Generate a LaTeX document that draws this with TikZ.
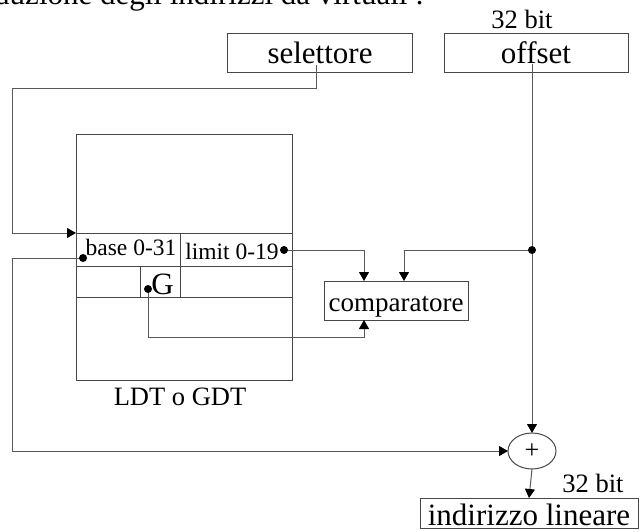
\documentclass[tikz,border=0pt]{standalone}
\usepackage{fontspec}
\setmainfont{Liberation Serif}
\usetikzlibrary{arrows.meta,shapes.geometric}

\begin{document}
\begin{tikzpicture}[x=1pt,y=-1pt,
  wire/.style={draw=black!65, line width=1pt},
  flow/.style={wire, -{Triangle[length=9pt,width=10pt,color=black]}},
  frame/.style={draw=black!72, line width=1pt, inner sep=0pt, outer sep=0pt},
  lbl/.style={inner sep=0pt, anchor=base, font=\fontsize{#1}{#1}\selectfont},
  jdot/.style={circle, fill=black, inner sep=0pt, minimum size=8pt}
]
\useasboundingbox (0,0) rectangle (640,531);
\clip (0,0) rectangle (640,531);

% heading (runs off the top edge)
\node[lbl=31, anchor=base east] (title) at (424,4) {Traduzione degli indirizzi da virtuali :};

% input registers
\node[frame, minimum width=185pt, minimum height=39pt] (sel) at (319.5,52.5) {};
\node[lbl=31] (seltxt) at (320,63) {selettore};
\node[frame, minimum width=184pt, minimum height=39pt] (off) at (536,52.5) {};
\node[lbl=31] (offtxt) at (536,63) {offset};
\node[lbl=26.5] (bitsA) at (522,28) {32 bit};

% descriptor table
\node[frame, minimum width=216pt, minimum height=246pt] (ldt) at (184,257) {};
\node[lbl=26.5] (ldttxt) at (180,405) {LDT o GDT};
\node[frame, minimum width=104pt, minimum height=33pt] (basecell) at (128,249.5) {};
\node[frame, minimum width=112pt, minimum height=33pt] (limcell) at (236,249.5) {};
\node[frame, minimum width=64pt, minimum height=31pt] (padcell) at (108,281.5) {};
\node[frame, minimum width=40pt, minimum height=31pt] (gcell) at (160,281.5) {};
\node[frame, minimum width=112pt, minimum height=31pt] (restcell) at (236,281.5) {};
\node[lbl=23.5] (basetxt) at (131,255) {base 0-31};
\node[lbl=23.5] (limtxt) at (232,259) {limit 0-19};
\node[lbl=31] (gtxt) at (162.5,294) {G};

% comparator, adder, result
\node[frame, minimum width=144pt, minimum height=39pt] (cmp) at (396,300.5) {};
\node[lbl=27] (cmptxt) at (396,311) {comparatore};
\node[frame, ellipse, minimum width=48pt, minimum height=36pt, font=\fontsize{26}{26}\selectfont] (sum) at (532,451) {+};
\node[frame, minimum width=218pt, minimum height=30pt] (ind) at (529,513) {};
\node[lbl=31] (indtxt) at (529,525) {indirizzo lineare};
\node[lbl=26.5] (bitsB) at (593,492) {32 bit};

% connection points
\coordinate (selfoot) at (316,65);
\coordinate (offfoot) at (532,64);
\coordinate (kA) at (12,88);
\coordinate (kB) at (12,258);
\coordinate (kC) at (364,337);
\coordinate (tap) at (532,250);
\coordinate (basedot) at (83,258);
\coordinate (limdot) at (284,250);
\coordinate (gdot) at (148,289);
\coordinate (cmpA) at (364,281);
\coordinate (cmpB) at (404,281);
\coordinate (cmpC) at (364,320);

% connectors
\draw[flow] (selfoot) |- (kA) |- (basecell.north west);
\draw[flow] (offfoot) -- (sum.north);
\draw[flow] (limdot) -| (cmpA);
\draw[flow] (tap) -| (cmpB);
\draw[flow] (gdot) |- (kC) -- (cmpC);
\draw[flow] (basedot) -- (kB) |- (sum.west);
\draw[flow] (sum.south) -- (ind.north);

% junction dots
\node[jdot] (d1) at (tap) {};
\node[jdot] (d2) at (basedot) {};
\node[jdot] (d3) at (limdot) {};
\node[jdot] (d4) at (gdot) {};
\end{tikzpicture}
\end{document}
